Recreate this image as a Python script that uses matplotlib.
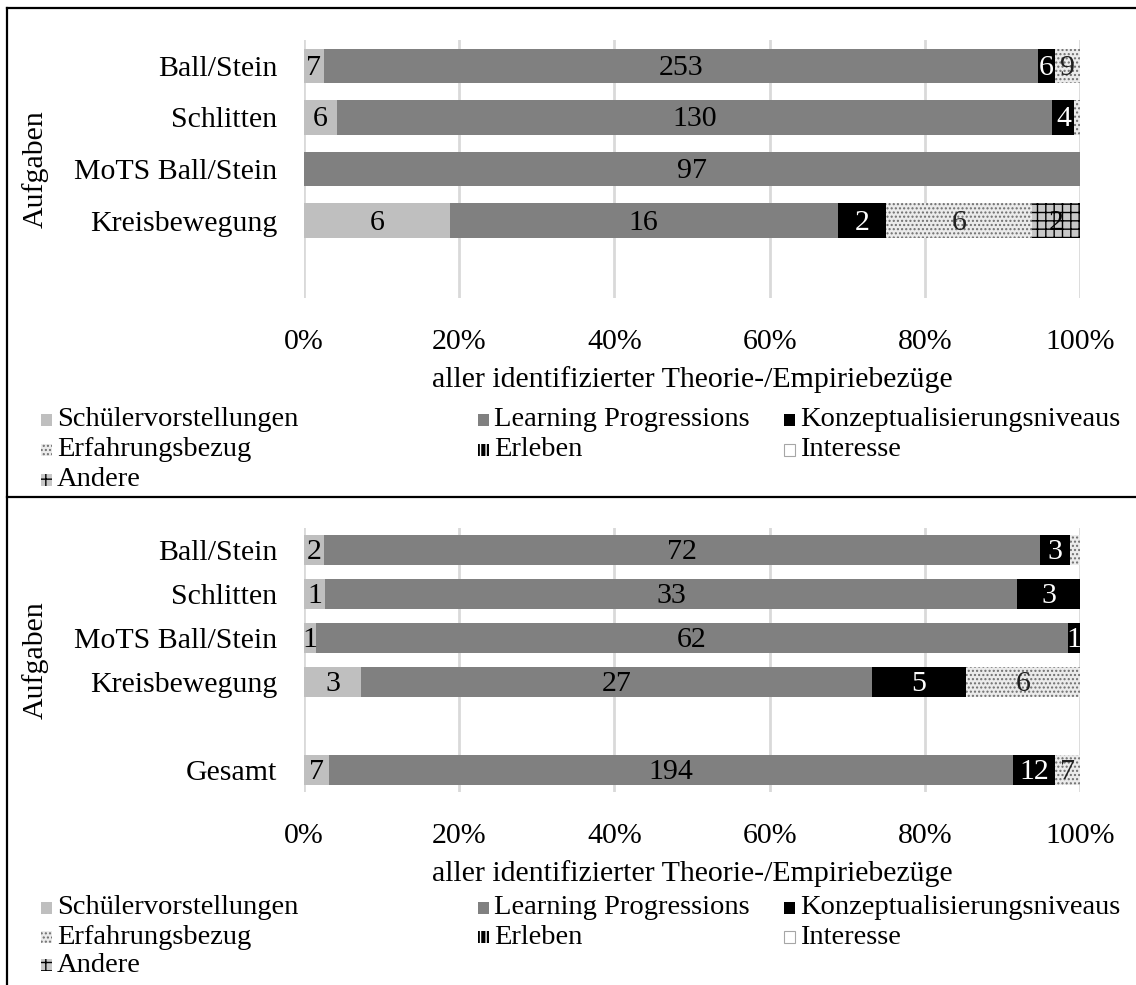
import matplotlib.pyplot as plt
from matplotlib.patches import Rectangle
from matplotlib.lines import Line2D
import numpy as np

plt.rcParams['font.family'] = ['Liberation Serif', 'DejaVu Serif']
plt.rcParams['hatch.linewidth'] = 1.0

W, H = 1136, 985
FS = 21.5
LFS = 20.5

series = ['Schülervorstellungen', 'Learning Progressions', 'Konzeptualisierungsniveaus',
          'Erfahrungsbezug', 'Erleben', 'Interesse', 'Andere']

# top panel
tasks_top = ['Ball/Stein', 'Schlitten', 'MoTS Ball/Stein', 'Kreisbewegung', '']
schueler_top = [7, 6, 0, 6, 0]
lp_top = [253, 130, 97, 16, 0]
konzept_top = [6, 4, 0, 2, 0]
erfahrung_top = [9, 1, 0, 6, 0]
erleben_top = [0, 0, 0, 0, 0]
interesse_top = [0, 0, 0, 0, 0]
andere_top = [0, 0, 0, 2, 0]

# bottom panel
tasks_bottom = ['Ball/Stein', 'Schlitten', 'MoTS Ball/Stein', 'Kreisbewegung', '', 'Gesamt']
schueler_bottom = [2, 1, 1, 3, 0, 7]
lp_bottom = [72, 33, 62, 27, 0, 194]
konzept_bottom = [3, 3, 1, 5, 0, 12]
erfahrung_bottom = [1, 0, 0, 6, 0, 7]
erleben_bottom = [0, 0, 0, 0, 0, 0]
interesse_bottom = [0, 0, 0, 0, 0, 0]
andere_bottom = [0, 0, 0, 0, 0, 0]

xlabel = 'aller identifizierter Theorie-/Empiriebezüge'
ylabel = 'Aufgaben'

# face, hatch/edge colour, hatch, label colour
styles = [
    dict(fc='#bfbfbf', ec='#bfbfbf', hatch=None, tc='black'),
    dict(fc='#808080', ec='#808080', hatch=None, tc='black'),
    dict(fc='black', ec='black', hatch=None, tc='white'),
    dict(fc='#ebebeb', ec='#6e6e6e', hatch='....', tc='#202020'),
    dict(fc='black', ec='white', hatch='|||', tc='black'),
    dict(fc='white', ec='#a6a6a6', hatch=None, tc='black'),
    dict(fc='#c8c8c8', ec='black', hatch='++', tc='black'),
]


def fx(px):
    return px / W


def fy(py):
    return 1 - py / H


def draw_panel(ax, tasks, values):
    data = np.array(values, dtype=float)
    totals = data.sum(axis=0)
    totals[totals == 0] = 1
    share = data / totals
    y = np.arange(len(tasks))
    left = np.zeros(len(tasks))
    for i, st in enumerate(styles):
        ax.barh(y, share[i], left=left, height=0.67, color=st['fc'],
                edgecolor=st['ec'], hatch=st['hatch'], linewidth=0, zorder=2)
        for j in range(len(tasks)):
            if share[i, j] > 0.014:
                ax.text(left[j] + share[i, j] / 2, y[j] + 0.04, f"{int(data[i, j])}",
                        ha='center', va='center', color=st['tc'], fontsize=FS, zorder=3)
        left += share[i]
    ax.set_xlim(0, 1)
    ax.set_ylim(len(tasks) - 0.5, -0.5)
    ax.set_yticks(y, tasks)
    ticks = np.linspace(0, 1, 6)
    ax.set_xticks(ticks, [f"{int(t * 100)}%" for t in ticks])
    ax.tick_params(length=0, labelsize=FS)
    ax.tick_params(axis='y', pad=19)
    ax.tick_params(axis='x', pad=22)
    ax.set_xlabel(xlabel, fontsize=FS, labelpad=8)
    for s in ax.spines.values():
        s.set_visible(False)
    ax.grid(axis='x', color='#d9d9d9', linewidth=2)
    ax.set_axisbelow(True)


def draw_legend(fig, rows):
    cols = [57, 494, 800]
    for k, name in enumerate(series):
        r, c = divmod(k, 3)
        tx, yc = cols[c], rows[r]
        st = styles[k]
        fig.patches.append(Rectangle((fx(tx - 16), fy(yc + 6)), 11 / W, 12 / H,
                                     transform=fig.transFigure, facecolor=st['fc'],
                                     edgecolor=st['ec'], hatch=st['hatch'],
                                     linewidth=0.8 if name == 'Interesse' else 0))
        fig.text(fx(tx), fy(yc), name, fontsize=LFS, va='center', ha='left')


fig = plt.figure(figsize=(W / 100, H / 100), dpi=100)

ax1 = fig.add_axes([fx(304), fy(298), fx(1080) - fx(304), (298 - 40) / H])
draw_panel(ax1, tasks_top, [schueler_top, lp_top, konzept_top, erfahrung_top,
                            erleben_top, interesse_top, andere_top])
fig.text(fx(35), fy(169), ylabel, rotation=90, fontsize=FS, ha='center', va='center')
draw_legend(fig, [420, 450, 480])

ax2 = fig.add_axes([fx(304), fy(792), fx(1080) - fx(304), (792 - 528) / H])
draw_panel(ax2, tasks_bottom, [schueler_bottom, lp_bottom, konzept_bottom, erfahrung_bottom,
                               erleben_bottom, interesse_bottom, andere_bottom])
fig.text(fx(35), fy(660), ylabel, rotation=90, fontsize=FS, ha='center', va='center')
draw_legend(fig, [908, 937, 965])

# frame lines around the two panels
for (x0, y0, x1, y1) in [(7, 8, W, 8), (7, 8, 7, H), (7, 497, W, 497)]:
    fig.add_artist(Line2D([fx(x0), fx(x1)], [fy(y0), fy(y1)], transform=fig.transFigure,
                          color='black', linewidth=1.6))

fig.savefig('out.png', dpi=100)
